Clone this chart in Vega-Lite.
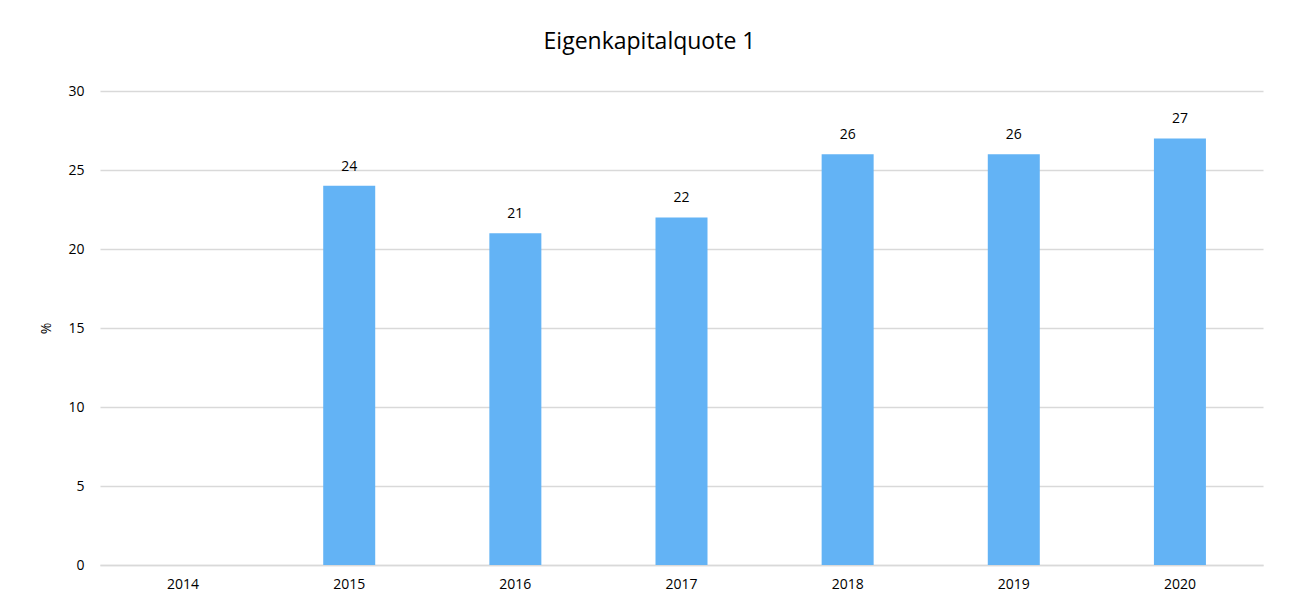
{
  "$schema": "https://vega.github.io/schema/vega-lite/v6.json",
  "width": 1163,
  "height": 474,
  "autosize": {"type": "none"},
  "padding": {"left": 100, "top": 91, "right": 30, "bottom": 42},
  "background": "white",
  "title": {
    "text": "Eigenkapitalquote 1",
    "font": "Open Sans",
    "fontSize": 23,
    "fontWeight": "normal",
    "color": "#000000",
    "anchor": "middle",
    "offset": 30,
    "dx": -32
  },
  "config": {
    "view": {"stroke": null},
    "axis": {"labelFont": "Open Sans", "titleFont": "Open Sans", "labelColor": "#000000", "titleColor": "#000000"}
  },
  "data": {
    "values": [
      {"year": "2014", "value": null},
      {"year": "2015", "value": 24},
      {"year": "2016", "value": 21},
      {"year": "2017", "value": 22},
      {"year": "2018", "value": 26},
      {"year": "2019", "value": 26},
      {"year": "2020", "value": 27}
    ]
  },
  "encoding": {
    "x": {
      "field": "year",
      "type": "ordinal",
      "scale": {"domain": ["2014", "2015", "2016", "2017", "2018", "2019", "2020"], "paddingInner": 0.687, "paddingOuter": 0.3435},
      "axis": {
        "title": null,
        "labelAngle": 0,
        "labelFontSize": 14,
        "labelPadding": 12,
        "ticks": false,
        "domainColor": "#D9D9D9",
        "domainWidth": 1.5,
        "grid": false
      }
    },
    "y": {
      "field": "value",
      "type": "quantitative",
      "scale": {"domain": [0, 30], "nice": false},
      "axis": {
        "title": "%",
        "titleFontSize": 14,
        "titleFontWeight": "normal",
        "titlePadding": 14,
        "values": [0, 5, 10, 15, 20, 25, 30],
        "labelFontSize": 14,
        "labelPadding": 16,
        "ticks": false,
        "domain": false,
        "gridColor": "#D9D9D9",
        "gridWidth": 1.5
      }
    }
  },
  "layer": [
    {"mark": {"type": "bar", "color": "#63B3F5"}},
    {
      "mark": {"type": "text", "baseline": "bottom", "dy": -12, "font": "Open Sans", "fontSize": 14, "color": "#000000"},
      "encoding": {"text": {"field": "value", "type": "quantitative"}}
    }
  ]
}
